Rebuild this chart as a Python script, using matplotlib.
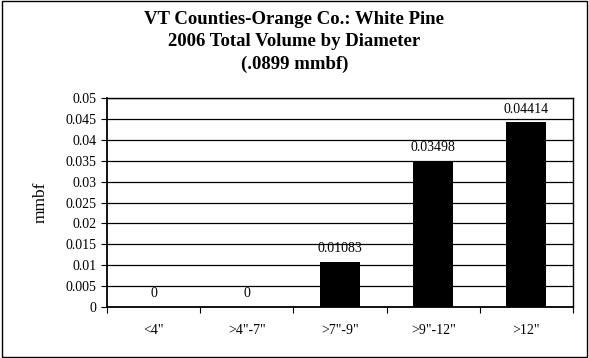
import matplotlib.pyplot as plt
from matplotlib.patches import Rectangle

categories = ['<4"', '>4"-7"', '>7"-9"', '>9"-12"', '>12"']
volumes = [0, 0, 0.01083, 0.03498, 0.04414]
value_labels = ['0', '0', '0.01083', '0.03498', '0.04414']
yticks = [0, 0.005, 0.01, 0.015, 0.02, 0.025, 0.03, 0.035, 0.04, 0.045, 0.05]
ytick_labels = ['0', '0.005', '0.01', '0.015', '0.02', '0.025', '0.03', '0.035', '0.04', '0.045', '0.05']

plt.rcParams['font.family'] = ['Liberation Serif', 'DejaVu Serif']

fig = plt.figure(figsize=(5.89, 3.58), dpi=100)
ax = fig.add_axes([107 / 589, 1 - 307 / 358, (573 - 107) / 589, (307 - 98) / 358])

# outer chart border
fig.patches.append(Rectangle((0.003, 0.004), 0.994, 0.992, transform=fig.transFigure,
                             fill=False, edgecolor='black', linewidth=1))

x = range(len(categories))
ax.bar(x, volumes, width=0.43, color='black', zorder=3)

for xi, v, lab in zip(x, volumes, value_labels):
    ax.annotate(lab, (xi, v), xytext=(0, 5), textcoords='offset points',
                ha='center', va='bottom', fontsize=10, zorder=4)

ax.set_xlim(-0.5, len(categories) - 0.5)
ax.set_ylim(0, 0.05)
ax.set_yticks(yticks)
ax.set_yticklabels(ytick_labels, fontsize=10)

# category labels on minor ticks, tick marks on the boundaries
ax.set_xticks([i - 0.5 for i in range(len(categories) + 1)])
ax.set_xticklabels([])
ax.set_xticks(list(x), minor=True)
ax.set_xticklabels(categories, minor=True, fontsize=10)
ax.tick_params(axis='x', which='minor', length=0, pad=12)
ax.tick_params(axis='x', which='major', length=4, direction='out')
ax.tick_params(axis='y', length=4, direction='out')

ax.yaxis.grid(True, color='black', linewidth=0.9, zorder=0)
ax.set_axisbelow(True)
for s in ax.spines.values():
    s.set_color('black')
    s.set_linewidth(1)
ax.spines['left'].set_linewidth(1.3)
ax.spines['bottom'].set_linewidth(1.3)

ax.set_ylabel('mmbf', fontsize=12.5)
ax.yaxis.set_label_coords(-58 / 466, 0.5)

fig.text(0.5, 1 - 20 / 358, 'VT Counties-Orange Co.: White Pine', ha='center', va='center',
         fontsize=13.5, fontweight='bold')
fig.text(0.5, 1 - 42 / 358, '2006 Total Volume by Diameter', ha='center', va='center',
         fontsize=13.5, fontweight='bold')
fig.text(0.5, 1 - 64 / 358, '(.0899 mmbf)', ha='center', va='center',
         fontsize=13.5, fontweight='bold')

fig.savefig('out.png', dpi=100)
